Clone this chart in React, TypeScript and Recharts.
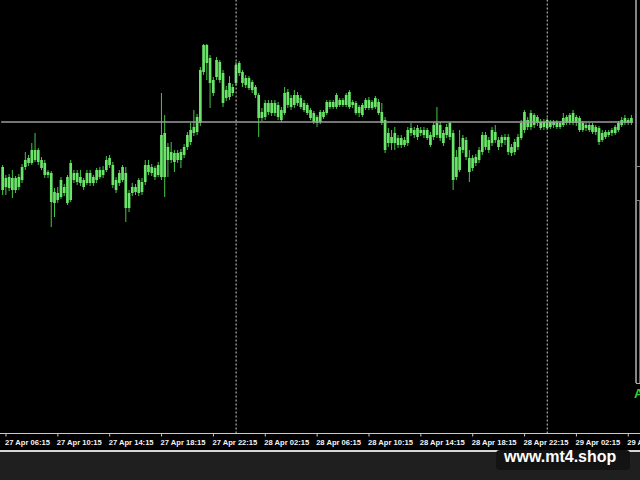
import React from 'react';
import { ComposedChart, Bar, XAxis, YAxis, ReferenceLine } from 'recharts';

// 15-minute candles, 27 Apr 06:00 -> 29 Apr 06:30
const openPrices = [
  283, 263, 273, 260, 272, 263, 270, 283, 287, 287,
  300, 288, 290, 287, 275, 277, 247, 257, 253, 263,
  247, 250, 277, 268, 273, 270, 267, 277, 267, 270,
  280, 275, 280, 292, 285, 270, 267, 270, 277, 242,
  257, 263, 257, 268, 268, 285, 277, 282, 275, 273,
  317, 290, 298, 288, 297, 290, 295, 303, 308, 317,
  318, 327, 378, 405, 392, 370, 373, 388, 377, 352,
  367, 357, 367, 387, 378, 372, 362, 368, 363, 355,
  332, 333, 347, 337, 347, 345, 340, 337, 358, 343,
  345, 355, 352, 347, 345, 340, 337, 333, 328, 338,
  337, 348, 343, 343, 350, 345, 345, 358, 345, 347,
  337, 345, 342, 350, 342, 343, 348, 338, 330, 307,
  313, 307, 312, 305, 310, 307, 317, 320, 313, 320,
  315, 320, 315, 313, 327, 312, 317, 315, 313, 317,
  273, 280, 300, 310, 292, 282, 287, 290, 298, 315,
  300, 307, 318, 310, 307, 313, 313, 297, 298, 303,
  312, 320, 330, 323, 335, 327, 328, 323, 330, 323,
  328, 323, 327, 325, 327, 327, 327, 333, 332, 320,
  325, 320, 325, 318, 322, 310, 313, 318, 317, 317,
  320, 325, 327, 330, 327,
];

const highPrices = [
  285, 275, 276, 280, 274, 276, 286, 298, 295, 307,
  317, 302, 293, 290, 280, 279, 262, 263, 273, 266,
  275, 290, 280, 280, 280, 272, 280, 280, 275, 282,
  283, 284, 294, 295, 288, 273, 280, 285, 283, 260,
  267, 266, 272, 272, 290, 290, 286, 284, 288, 357,
  335, 307, 308, 300, 300, 301, 306, 318, 327, 340,
  336, 383, 406, 406, 395, 373, 393, 390, 380, 364,
  374, 366, 388, 389, 380, 375, 374, 370, 365, 357,
  342, 350, 350, 350, 350, 348, 343, 363, 361, 355,
  360, 358, 355, 350, 347, 342, 339, 335, 340, 340,
  350, 350, 350, 357, 352, 352, 357, 360, 350, 349,
  345, 347, 352, 353, 350, 354, 351, 347, 333, 322,
  320, 323, 315, 315, 313, 323, 327, 323, 325, 323,
  323, 322, 318, 328, 343, 328, 320, 326, 328, 320,
  300, 320, 315, 313, 300, 295, 296, 303, 318, 318,
  313, 323, 325, 313, 315, 316, 316, 306, 311, 316,
  330, 340, 333, 340, 337, 335, 331, 331, 332, 330,
  330, 330, 329, 337, 335, 337, 340, 335, 334, 329,
  327, 327, 327, 325, 324, 320, 320, 320, 322, 325,
  329, 333, 335, 332, 335,
];

const lowPrices = [
  255, 255, 259, 252, 257, 260, 267, 280, 284, 285,
  288, 285, 280, 272, 272, 223, 233, 247, 251, 254,
  245, 248, 267, 265, 264, 260, 265, 264, 264, 267,
  271, 272, 278, 282, 262, 257, 264, 268, 228, 238,
  254, 255, 254, 255, 265, 275, 274, 270, 273, 270,
  253, 273, 287, 278, 287, 282, 292, 300, 305, 314,
  315, 324, 375, 370, 342, 354, 370, 367, 343, 349,
  350, 354, 364, 374, 363, 362, 360, 357, 352, 313,
  329, 330, 335, 334, 334, 330, 328, 335, 342, 340,
  342, 344, 341, 338, 335, 330, 326, 323, 326, 331,
  335, 341, 341, 341, 343, 343, 343, 341, 342, 335,
  333, 333, 340, 340, 340, 341, 335, 325, 297, 303,
  300, 300, 302, 302, 303, 304, 314, 312, 310, 314,
  312, 310, 303, 310, 312, 309, 304, 312, 310, 260,
  270, 278, 297, 290, 268, 279, 284, 287, 295, 300,
  297, 304, 307, 300, 303, 305, 295, 294, 295, 300,
  310, 317, 320, 320, 322, 324, 320, 320, 320, 321,
  322, 321, 321, 323, 325, 325, 325, 324, 318, 318,
  319, 318, 316, 315, 305, 308, 311, 313, 314, 315,
  318, 323, 325, 325, 325,
];

const closePrices = [
  260, 272, 262, 272, 260, 273, 283, 290, 292, 300,
  290, 300, 282, 275, 278, 248, 258, 250, 270, 257,
  273, 287, 270, 277, 267, 263, 277, 267, 273, 280,
  273, 280, 290, 285, 265, 260, 277, 283, 242, 257,
  263, 258, 270, 258, 285, 278, 283, 273, 285, 315,
  273, 303, 290, 297, 290, 298, 303, 315, 320, 323,
  333, 380, 405, 387, 367, 357, 390, 370, 347, 360,
  353, 363, 385, 377, 367, 365, 372, 360, 355, 332,
  338, 347, 338, 347, 337, 333, 330, 357, 345, 352,
  355, 347, 343, 340, 337, 332, 328, 327, 338, 333,
  348, 343, 348, 355, 345, 350, 355, 343, 348, 337,
  343, 335, 350, 342, 348, 352, 337, 327, 300, 317,
  307, 317, 305, 312, 305, 320, 322, 315, 322, 317,
  320, 312, 305, 325, 315, 325, 307, 323, 327, 270,
  293, 303, 312, 293, 278, 292, 293, 300, 315, 303,
  310, 320, 310, 303, 313, 310, 298, 303, 308, 313,
  327, 338, 323, 337, 325, 333, 322, 328, 322, 328,
  325, 328, 323, 332, 333, 335, 337, 327, 320, 327,
  322, 325, 318, 323, 308, 317, 318, 315, 320, 323,
  327, 330, 332, 327, 332,
];

const tickLabels = [
  '27 Apr 06:15', '27 Apr 10:15', '27 Apr 14:15', '27 Apr 18:15', '27 Apr 22:15',
  '28 Apr 02:15', '28 Apr 06:15', '28 Apr 10:15', '28 Apr 14:15', '28 Apr 18:15',
  '28 Apr 22:15', '29 Apr 02:15', '29 Apr 06:15',
];

const daySeparators = ['28 Apr 00:00', '29 Apr 00:00'];
const bidPrice = 328;
const priceDomain: [number, number] = [16.5, 450];

const firstDay = 27;
const firstMinute = 6 * 60;
const barMinutes = 15;
const monthName = 'Apr';

function barTime(i: number): string {
  const total = firstMinute + i * barMinutes;
  const day = firstDay + Math.floor(total / 1440);
  const m = total % 1440;
  const hh = String(Math.floor(m / 60)).padStart(2, '0');
  const mm = String(m % 60).padStart(2, '0');
  return `${day} ${monthName} ${hh}:${mm}`;
}

const data = openPrices.map((o, i) => ({
  time: barTime(i),
  open: o,
  high: highPrices[i],
  low: lowPrices[i],
  close: closePrices[i],
  range: [lowPrices[i], highPrices[i]],
}));

const Candle = (props: any) => {
  const { x, y, width, height, payload } = props;
  if (x == null || y == null || !payload) return null;
  const top = Math.min(y, y + height);
  const span = Math.abs(height);
  const { open, close, high, low } = payload;
  const k = high === low ? 0 : span / (high - low);
  const toY = (v: number) => top + (high - v) * k;
  const cx = x + width / 2;
  const yo = toY(open);
  const yc = toY(close);
  const bt = Math.min(yo, yc);
  const bh = Math.max(Math.abs(yo - yc), 1);
  return (
    <g>
      <line x1={cx} x2={cx} y1={top} y2={top + span} stroke="#45c845" strokeWidth={1} />
      <rect x={cx - 1.35} y={bt} width={2.7} height={bh} fill="#6ae56a" />
    </g>
  );
};

const TimeTick = (props: any) => {
  const { x, y, payload } = props;
  return (
    <g>
      <line x1={x} x2={x} y1={y} y2={y + 3} stroke="#c8c8c8" strokeWidth={1} />
      <text
        x={x - 1}
        y={y + 11.5}
        fill="#f4f4f4"
        fontSize={7.6}
        fontWeight="bold"
        fontFamily="'Liberation Sans', Arial, sans-serif"
        textAnchor="start"
      >
        {payload.value}
      </text>
    </g>
  );
};

export default function App() {
  return (
    <div style={{ position: 'fixed', left: 0, top: 0, width: 640, height: 480, background: '#000', overflow: 'hidden' }}>
      <ComposedChart
        width={640}
        height={452}
        data={data}
        margin={{ top: 0, right: 6.86, left: 1.14, bottom: 0 }}
        barCategoryGap={0}
      >
        <XAxis
          dataKey="time"
          type="category"
          ticks={tickLabels}
          interval={0}
          tick={(p: any) => <TimeTick {...p} />}
          tickLine={false}
          axisLine={false}
          tickSize={0}
          tickMargin={0}
          height={18.5}
        />
        <YAxis hide type="number" domain={priceDomain} allowDataOverflow />
        {daySeparators.map((d) => (
          <ReferenceLine key={d} x={d} stroke="#d0d0d0" strokeDasharray="2 2" strokeWidth={1} />
        ))}
        <ReferenceLine y={bidPrice} stroke="#9c9c9c" strokeWidth={1.3} />
        <Bar dataKey="range" shape={(p: any) => <Candle {...p} />} isAnimationActive={false} />
      </ComposedChart>
      <svg
        width={640}
        height={480}
        style={{ position: 'absolute', left: 0, top: 0, pointerEvents: 'none' }}
      >
        <line x1={0} x2={640} y1={433.5} y2={433.5} stroke="#c8c8c8" strokeWidth={1} />
        <line x1={636} x2={636} y1={0} y2={383} stroke="#b0b0b0" strokeWidth={1.5} />
        <line x1={636} x2={640} y1={383.5} y2={383.5} stroke="#b0b0b0" strokeWidth={1} />
        <line x1={637} x2={640} y1={166.5} y2={166.5} stroke="#8a8a8a" strokeWidth={1} />
        <line x1={637} x2={640} y1={200.5} y2={200.5} stroke="#8a8a8a" strokeWidth={1} />
        <line x1={639.5} x2={639.5} y1={200} y2={383} stroke="#6a6a6a" strokeWidth={1} />
        <text x={634} y={398} fill="#22dd22" fontSize={13} fontWeight="bold" fontFamily="'Liberation Sans', Arial, sans-serif">A</text>
        <rect x={0} y={452} width={640} height={28} fill="#1f1f1f" />
        <rect x={0} y={450} width={640} height={2} fill="#d6d6d6" />
        <rect x={496} y={450} width={134} height={20} rx={4} fill="#131313" />
        <text
          x={504}
          y={461.5}
          fill="#ffffff"
          fontSize={16}
          fontWeight="bold"
          fontFamily="'Liberation Sans', Arial, sans-serif"
        >
          www.mt4.shop
        </text>
      </svg>
    </div>
  );
}
